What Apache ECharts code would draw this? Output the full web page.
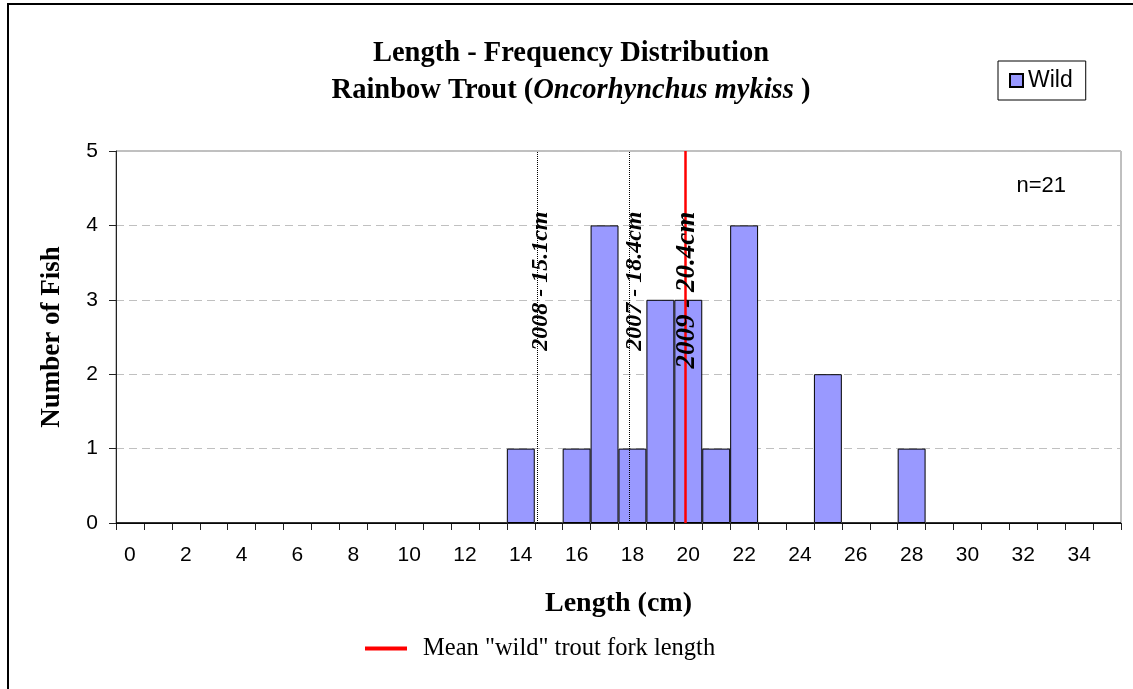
<!DOCTYPE html>
<html><head><meta charset="utf-8">
<script src="https://cdn.jsdelivr.net/npm/echarts@6/dist/echarts.min.js"></script>
<style>html,body{margin:0;padding:0;background:#fff}#c{width:1133px;height:689px}</style>
</head><body><div id="c"></div>
<script>
// ---- data ----
const lengthBins = ['0','1','2','3','4','5','6','7','8','9','10','11','12','13','14','15','16','17',
                    '18','19','20','21','22','23','24','25','26','27','28','29','30','31','32','33','34','35'];
const wildCounts = [0,0,0,0,0,0,0,0,0,0,0,0,0,0, 1,0,1,4,1,3,3,1,4,0,0,2,0,0,1, 0,0,0,0,0,0,0];
const pastYears = ['2008', '2007'];
const pastMeans = [15.1, 18.4];
const meanYear = '2009';
const meanLength = 20.4;
const sampleSize = 21;
const yMin = 0, yMax = 5, yStep = 1;

const SERIF = '"Liberation Serif","Times New Roman",serif';
const SANS = '"Liberation Sans",Arial,sans-serif';
const MEAN_NAME = 'Mean "wild" trout fork length';

const chart = echarts.init(document.getElementById('c'), null, {renderer: 'canvas'});
const option = {
  animation: false,
  backgroundColor: '#ffffff',
  title: {
    text: '{a|Length - Frequency Distribution}\n{a|Rainbow Trout (}{b|Oncorhynchus mykiss }{a|)}',
    left: 571, top: 35, padding: 0, textAlign: 'center',
    textStyle: {
      rich: {
        a: {fontFamily: SERIF, fontWeight: 'bold', fontSize: 28.5, lineHeight: 37, color: '#000'},
        b: {fontFamily: SERIF, fontWeight: 'bold', fontStyle: 'italic', fontSize: 28.5, lineHeight: 37, color: '#000'}
      }
    }
  },
  legend: [
    {
      data: ['Wild'], left: 998, top: 61, orient: 'horizontal',
      borderColor: '#000', borderWidth: 1, padding: [8, 13, 8, 11],
      itemWidth: 13, itemHeight: 13, icon: 'rect', selectedMode: false,
      textStyle: {fontFamily: SANS, fontSize: 23, color: '#000'}
    },
    {
      data: [MEAN_NAME], left: 365, top: 636, padding: 0,
      itemWidth: 42, itemHeight: 4, icon: 'rect', selectedMode: false,
      textStyle: {fontFamily: SERIF, fontSize: 24.5, color: '#000', padding: [0, 0, 0, 11]}
    }
  ],
  grid: {left: 116, right: 12, top: 151, bottom: 166, show: true, borderColor: '#808080', borderWidth: 1,
         containLabel: false},
  xAxis: [
    {
      type: 'category', data: lengthBins, position: 'bottom',
      axisLine: {show: true, lineStyle: {color: '#222', width: 1}},
      axisTick: {show: true, interval: 0, length: 7, lineStyle: {color: '#222'}},
      axisLabel: {interval: 1, fontFamily: SANS, fontSize: 21, color: '#000', margin: 22},
      splitLine: {show: false},
      name: 'Length (cm)', nameLocation: 'middle', nameGap: 67, nameMoveOverlap: false,
      nameTextStyle: {fontFamily: SERIF, fontWeight: 'bold', fontSize: 28, color: '#000'}
    },
    {type: 'value', min: 0, max: lengthBins.length, show: false}
  ],
  yAxis: {
    type: 'value', min: yMin, max: yMax, interval: yStep,
    axisLine: {show: true, lineStyle: {color: '#222', width: 1}},
    axisTick: {show: true, length: 7, lineStyle: {color: '#222'}},
    axisLabel: {fontFamily: SANS, fontSize: 21, color: '#000', margin: 18},
    splitLine: {show: true, lineStyle: {color: '#c0c0c0', type: [8, 5], width: 1}},
    name: 'Number of Fish', nameLocation: 'middle', nameRotate: 90, nameGap: 50, nameMoveOverlap: false,
    nameTextStyle: {fontFamily: SERIF, fontWeight: 'bold', fontSize: 27, color: '#000'}
  },
  series: [
    {
      name: 'Wild', type: 'bar', data: wildCounts, barCategoryGap: '0%', barGap: '0%',
      itemStyle: {color: '#9999ff', borderColor: '#000', borderWidth: 1}, z: 2
    },
    {
      name: 'past', type: 'line', xAxisIndex: 1, data: [], z: 4,
      markLine: {
        symbol: 'none', silent: true, label: {show: false},
        lineStyle: {color: '#000', type: 'dotted', width: 1},
        data: pastMeans.map(v => ({xAxis: v}))
      }
    },
    {
      name: MEAN_NAME, type: 'line', xAxisIndex: 1, data: [], z: 5,
      itemStyle: {color: '#ff0000'}, lineStyle: {color: '#ff0000', width: 2},
      markLine: {
        symbol: 'none', silent: true, label: {show: false},
        lineStyle: {color: '#ff0000', type: 'solid', width: 2.5},
        data: [{xAxis: meanLength}]
      }
    }
  ]
};
chart.setOption(option);

function rotLabel(value, year, yVal, size, dx) {
  const x = chart.convertToPixel({xAxisIndex: 1}, value) + dx;
  const y = chart.convertToPixel({yAxisIndex: 0}, yVal);
  return {
    type: 'text', x: x, y: y, rotation: Math.PI / 2, z: 10,
    style: {
      text: year + ' - ' + value + 'cm', fill: '#000',
      font: 'italic bold ' + size + 'px ' + SERIF,
      align: 'center', verticalAlign: 'middle', textAlign: 'center', textVerticalAlign: 'middle'
    }
  };
}
const graphics = [
  {type: 'rect', shape: {x: 8, y: 4, width: 2000, height: 2000}, style: {fill: 'none', stroke: '#000', lineWidth: 2}, silent: true, z: 0},
  {type: 'text', x: 1066, y: 186, z: 10,
   style: {text: 'n=' + sampleSize, fill: '#000', font: '22px ' + SANS, align: 'right', verticalAlign: 'middle',
           textAlign: 'right', textVerticalAlign: 'middle'}}
];
pastMeans.forEach((v, i) => graphics.push(rotLabel(v, pastYears[i], 3.25, 24, i === 0 ? 3 : 5)));
graphics.push(rotLabel(meanLength, meanYear, 3.13, 27, 2));
chart.setOption({graphic: graphics});
</script>
</body></html>
